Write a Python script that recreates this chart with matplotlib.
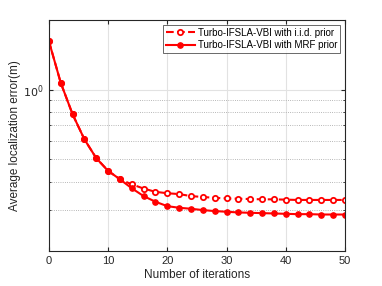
import matplotlib
matplotlib.use('agg')
import matplotlib.pyplot as plt
from matplotlib.ticker import LogLocator, NullFormatter, FixedLocator

plt.rcParams['font.family'] = ['Liberation Sans', 'DejaVu Sans']

# data
iters = [0, 2, 4, 6, 8, 10, 12, 14, 16, 18, 20, 22, 24, 26, 28, 30,
         32, 34, 36, 38, 40, 42, 44, 46, 48, 50]
err_iid = [1.62, 1.07, 0.782, 0.609, 0.505, 0.445, 0.409, 0.389, 0.373, 0.361,
           0.356, 0.353, 0.346, 0.343, 0.340, 0.338, 0.337, 0.336, 0.335, 0.335,
           0.334, 0.333, 0.333, 0.333, 0.333, 0.333]
err_mrf = [1.62, 1.07, 0.782, 0.609, 0.505, 0.445, 0.409, 0.374, 0.346, 0.327,
           0.313, 0.308, 0.305, 0.301, 0.298, 0.296, 0.294, 0.293, 0.292, 0.291,
           0.290, 0.289, 0.289, 0.288, 0.288, 0.288]

fig = plt.figure(figsize=(3.82, 2.86), dpi=100)
ax = fig.add_axes([0.128, 0.122, 0.775, 0.808])

ax.plot(iters, err_iid, '--o', color='red', lw=1.5, ms=3.8, mfc='white', mew=1.3,
        label='Turbo-IFSLA-VBI with i.i.d. prior')
ax.plot(iters, err_mrf, '-o', color='red', lw=1.5, ms=3.8,
        label='Turbo-IFSLA-VBI with MRF prior')

ax.set_yscale('log')
ax.set_xlim(0, 50)
ax.set_ylim(0.2, 2.0)
ax.set_xticks([0, 10, 20, 30, 40, 50])
ax.yaxis.set_major_locator(FixedLocator([1.0]))
ax.set_yticklabels([r'$10^0$'])
ax.yaxis.set_minor_locator(LogLocator(base=10, subs=[0.2, 0.3, 0.4, 0.5, 0.6, 0.7, 0.8, 0.9, 2.0]))
ax.yaxis.set_minor_formatter(NullFormatter())

ax.grid(True, which='major', color='#e2e2e2', lw=0.8, ls='-')
ax.grid(True, which='minor', axis='y', color='#a0a0a0', lw=0.6, ls=':')
ax.set_axisbelow(True)

ax.tick_params(which='both', direction='in', top=True, right=True, labelsize=8,
               colors='#262626', length=3)
ax.tick_params(which='minor', length=1.5)
for s in ax.spines.values():
    s.set_color('#262626')
    s.set_linewidth(0.8)

ax.set_xlabel('Number of iterations', fontsize=8.5, color='#262626', labelpad=2)
ax.set_ylabel('Average localization error(m)', fontsize=8.5, color='#262626', labelpad=2)

leg = ax.legend(loc='upper right', fontsize=7, frameon=True, fancybox=False,
                edgecolor='#262626', borderpad=0.3, labelspacing=0.25,
                handlelength=3.0, handletextpad=0.3, borderaxespad=0.5)
leg.get_frame().set_linewidth(0.6)

fig.savefig('out.png', dpi=100)
